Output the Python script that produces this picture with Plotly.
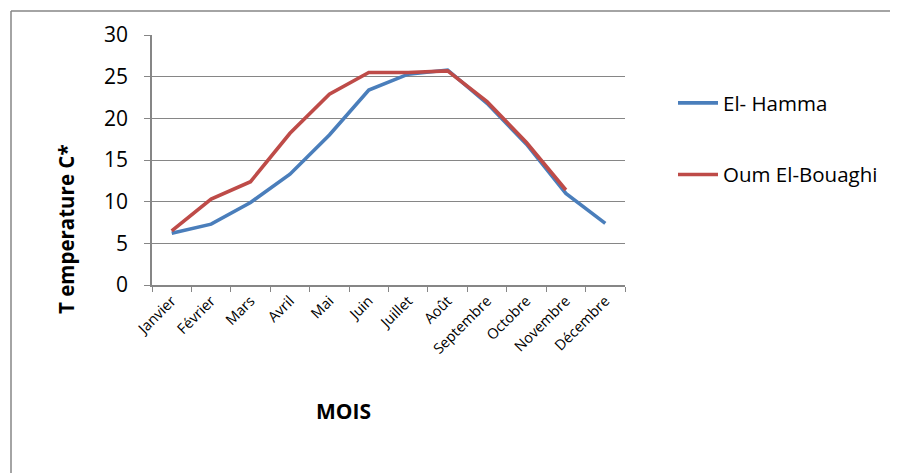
import plotly.graph_objects as go

months = ["Janvier", "Février", "Mars", "Avril", "Mai", "Juin", "Juillet",
          "Août", "Septembre", "Octobre", "Novembre", "Décembre"]
el_hamma = [6.2, 7.3, 9.9, 13.3, 18.0, 23.4, 25.3, 25.8, 21.8, 16.9, 11.0, 7.4]
oum_el_bouaghi = [6.5, 10.3, 12.4, 18.2, 22.9, 25.5, 25.5, 25.7, 22.0, 17.1, 11.4, None]

W, H = 898, 473
OFF = 8  # page offset of the figure
L, R, T, B = 152 - OFF, 625 - OFF, 35 - OFF, 285 - OFF
grid = "#868686"
font = "Open Sans"

fig = go.Figure()
fig.add_trace(go.Scatter(x=months, y=el_hamma, mode="lines", name="El- Hamma",
                         line=dict(color="#4A7EBB", width=3.6), legendgroup="a"))
fig.add_trace(go.Scatter(x=months, y=oum_el_bouaghi, mode="lines", name="Oum El-Bouaghi",
                         line=dict(color="#BE4B48", width=3.6), legendgroup="b",
                         connectgaps=False))

def px_x(x):
    return (x - OFF - L) / (R - L)

def px_y(y):
    return (B - (y - OFF)) / (B - T)

fig.update_layout(
    width=W, height=H,
    margin=dict(l=L, r=W - R, t=T, b=H - B, autoexpand=False),
    paper_bgcolor="white", plot_bgcolor="white",
    font=dict(family=font, color="black"),
    showlegend=True,
    legend=dict(x=px_x(673), y=px_y(83), xanchor="left", yanchor="top",
                font=dict(size=20.5, family=font), tracegroupgap=42,
                traceorder="grouped", bgcolor="rgba(0,0,0,0)", itemwidth=40),
    xaxis=dict(type="category", range=[-0.5, 11.5], showgrid=False,
               showline=True, linecolor=grid, linewidth=1.5,
               ticks="outside", tickson="boundaries", ticklen=5, tickcolor=grid,
               tickangle=-45, tickfont=dict(size=14.5, family=font)),
    yaxis=dict(range=[0, 30], dtick=5, showgrid=True, gridcolor=grid, gridwidth=1.2,
               showline=True, linecolor=grid, linewidth=1.5, zeroline=False,
               ticks="outside", ticklen=6, tickcolor=grid, ticklabelstandoff=12,
               tickfont=dict(size=21, family=font)),
    shapes=[
        dict(type="line", xref="paper", yref="paper", x0=px_x(11), x1=px_x(910),
             y0=px_y(11), y1=px_y(11), line=dict(color=grid, width=1.5)),
        dict(type="line", xref="paper", yref="paper", x0=px_x(11), x1=px_x(11),
             y0=px_y(11), y1=px_y(490), line=dict(color=grid, width=1.5)),
    ],
    annotations=[
        dict(text="<b>T emperature C*</b>", xref="paper", yref="paper",
             x=px_x(66), y=px_y(229), textangle=-90, showarrow=False,
             font=dict(size=20.5, family=font), xanchor="center", yanchor="middle"),
        dict(text="<b>MOIS</b>", xref="paper", yref="paper",
             x=px_x(343), y=px_y(411), showarrow=False,
             font=dict(size=21, family=font), xanchor="center", yanchor="middle"),
    ],
)

fig.write_html("out.html")
